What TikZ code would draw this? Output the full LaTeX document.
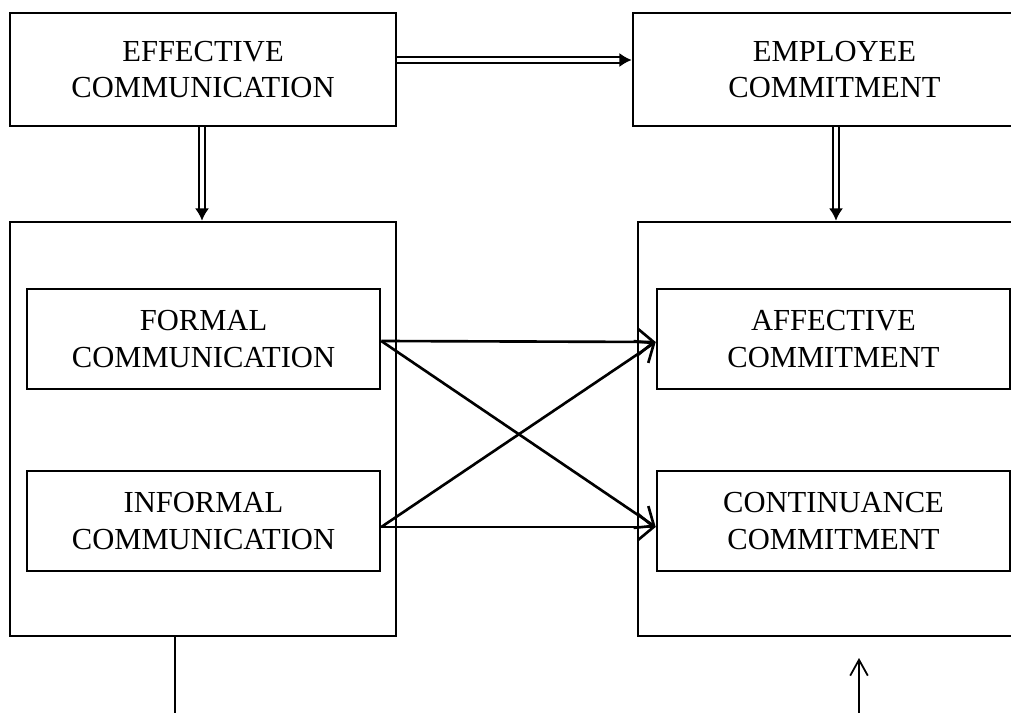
\documentclass[tikz,border=0pt]{standalone}
\usepackage{fontspec}
\setmainfont{Liberation Serif}
\usetikzlibrary{arrows.meta}

\begin{document}
\begin{tikzpicture}[x=0.02cm, y=-0.02cm,
  box/.style={draw, line width=1.5pt, align=center, inner sep=0pt, font=\fontsize{17.4}{21}\selectfont},
  dbl/.style={draw, double, line width=1.1pt, double distance=1.8pt, -{Latex[length=7pt,width=8pt]}},
  link/.style={draw, line width=1.5pt, -{Straight Barb[length=9pt,width=15pt]}}]
\useasboundingbox (0,0) rectangle (1011,713); %page size
\clip (0,0) rectangle (1011,713);
\node[box, minimum width=7.72cm, minimum height=2.26cm] (effcomm) at (203,69.5) {EFFECTIVE\\COMMUNICATION}; %top left box
\node[box, minimum width=8.06cm, minimum height=2.26cm] (empcomm) at (834.5,69.5) {EMPLOYEE\\COMMITMENT}; %top right box, runs off the page
\node[box, minimum width=7.72cm, minimum height=8.28cm] (leftbox) at (203,429) {}; %big left frame
\node[box, minimum width=7.86cm, minimum height=8.28cm] (rightbox) at (834.5,429) {}; %big right frame
\node[box, minimum width=7.06cm, minimum height=2.0cm] (formal) at (203.5,339) {FORMAL\\COMMUNICATION};
\node[box, minimum width=7.06cm, minimum height=2.0cm] (informal) at (203.5,521) {INFORMAL\\COMMUNICATION};
\node[box, minimum width=7.06cm, minimum height=2.0cm] (affective) at (833.5,339) {AFFECTIVE\\COMMITMENT};
\node[box, minimum width=7.06cm, minimum height=2.0cm] (continuance) at (833.5,521) {CONTINUANCE\\COMMITMENT};
\draw[dbl] ([yshift=0.19cm]effcomm.east) -- ([yshift=0.19cm]empcomm.west); %double arrow across the top
\draw[dbl] ([xshift=-0.02cm]effcomm.south) -- ([xshift=-0.02cm]leftbox.north); %double arrow down, left
\draw[dbl] ([xshift=0.03cm]empcomm.south) -- ([xshift=0.03cm]rightbox.north); %double arrow down, right
\draw[link] ([yshift=-0.04cm]formal.east) -- ([yshift=-0.06cm]affective.west);
\draw[link] ([yshift=-0.04cm]formal.east) -- ([yshift=-0.12cm]continuance.west);
\draw[link] ([yshift=-0.12cm]informal.east) -- ([yshift=-0.12cm]continuance.west);
\draw[link] ([yshift=-0.12cm]informal.east) -- ([yshift=-0.06cm]affective.west);
\coordinate (leftend) at (175,713); %free end below the left frame
\coordinate (rightend) at (859,713); %free end below the right frame
\coordinate (righttip) at (859,658);
\draw[line width=1pt] (leftbox.south -| leftend) -- (leftend);
\draw[line width=1pt, -{Straight Barb[length=9pt,width=10pt]}] (rightend) -- (righttip);
\end{tikzpicture}
\end{document}
